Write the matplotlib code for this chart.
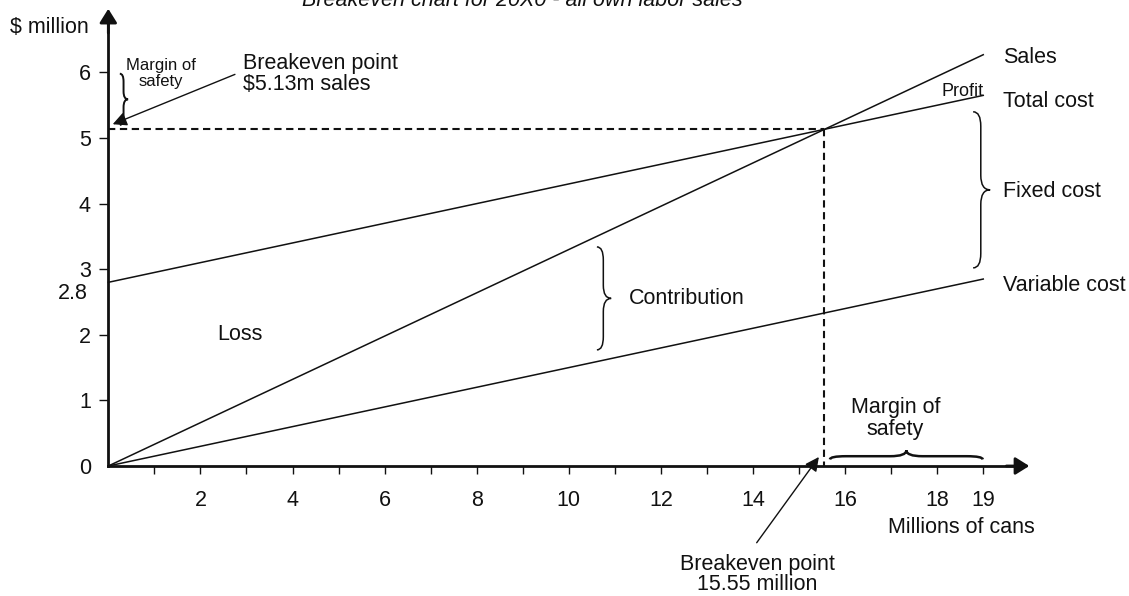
#!/usr/bin/env python3
"""Breakeven chart for 20X0 - all own labor sales."""

from __future__ import annotations

import matplotlib

matplotlib.use("Agg")

import matplotlib.pyplot as plt
from matplotlib.path import Path as MPath
from matplotlib.patches import PathPatch


# data (millions of cans, $ million)
UNITS = [0, 19]
SALES = [0, 6.27]
TOTAL_COST = [2.8, 5.65]
VARIABLE_COST = [0, 2.85]
FIXED_COST = 2.8
BREAKEVEN_UNITS = 15.55
BREAKEVEN_SALES = 5.13

X_TICKS = list(range(1, 20))
X_LABELS = ["2", "4", "6", "8", "10", "12", "14", "16", "18", "19"]
X_LABEL_AT = [2, 4, 6, 8, 10, 12, 14, 16, 18, 19]
Y_TICKS = [0, 1, 2, 3, 4, 5, 6]

LINE_LABELS = ["Sales", "Total cost", "Variable cost"]

FS = 15.5
INK = "#111111"


def brace_v(ax, x, y0, y1, depth, curl, lw=1.1):
    """Vertical '}' brace, ends at x, tip at x + depth."""
    ym = (y0 + y1) / 2
    xb = x + depth * 0.45
    xt = x + depth
    verts = [
        (x, y1), (xb, y1), (xb, y1 - curl),
        (xb, ym + curl),
        (xb, ym), (xt, ym),
        (xb, ym), (xb, ym - curl),
        (xb, y0 + curl),
        (xb, y0), (x, y0),
    ]
    C3 = MPath.CURVE3
    codes = [MPath.MOVETO, C3, C3, MPath.LINETO, C3, C3, C3, C3, MPath.LINETO, C3, C3]
    ax.add_patch(PathPatch(MPath(verts, codes), fill=False, lw=lw, color=INK))


def brace_h(ax, x0, x1, y, depth, curl, lw=1.8):
    """Horizontal brace opening downward, tip pointing up."""
    xm = (x0 + x1) / 2
    yb = y + depth * 0.35
    yt = y + depth
    verts = [
        (x0, y), (x0, yb), (x0 + curl, yb),
        (xm - curl, yb),
        (xm, yb), (xm, yt),
        (xm, yb), (xm + curl, yb),
        (x1 - curl, yb),
        (x1, yb), (x1, y),
    ]
    C3 = MPath.CURVE3
    codes = [MPath.MOVETO, C3, C3, MPath.LINETO, C3, C3, C3, C3, MPath.LINETO, C3, C3]
    ax.add_patch(PathPatch(MPath(verts, codes), fill=False, lw=lw, color=INK))


def main() -> None:
    plt.rcParams["font.family"] = ["Liberation Sans", "DejaVu Sans"]
    plt.rcParams["font.size"] = FS

    fig = plt.figure(figsize=(11.29, 5.96), dpi=100)
    ax = fig.add_axes([0, 0, 1, 1])
    ax.set_xlim(-2.352, 22.165)
    ax.set_ylim(-1.982, 7.104)

    # axes through the origin
    for side in ("top", "right"):
        ax.spines[side].set_visible(False)
    ax.spines["left"].set_position(("data", 0))
    ax.spines["bottom"].set_position(("data", 0))
    ax.spines["left"].set_bounds(0, 6.9)
    ax.spines["bottom"].set_bounds(0, 19.8)
    for side in ("left", "bottom"):
        ax.spines[side].set_linewidth(2.0)
        ax.spines[side].set_color(INK)

    arrow = dict(arrowstyle="-|>,head_length=0.4,head_width=0.25", lw=2.0,
                 color=INK, mutation_scale=21, shrinkA=0, shrinkB=0)
    ax.annotate("", xy=(0, 6.97), xytext=(0, 6.6), arrowprops=arrow)
    ax.annotate("", xy=(20.0, 0), xytext=(19.5, 0), arrowprops=arrow)

    ax.set_xticks(X_TICKS)
    ax.set_xticklabels([X_LABELS[X_LABEL_AT.index(t)] if t in X_LABEL_AT else "" for t in X_TICKS])
    ax.set_yticks(Y_TICKS)
    ax.set_yticklabels([str(t) for t in Y_TICKS])
    ax.tick_params(axis="x", direction="out", length=6, width=1.0, pad=11,
                   labelsize=FS, colors=INK)
    ax.tick_params(axis="y", direction="out", length=6.5, width=1.0, pad=6,
                   labelsize=FS, colors=INK)
    ax.yaxis.get_major_ticks()[0].tick1line.set_visible(False)

    # cost / revenue lines
    ax.plot(UNITS, SALES, color=INK, lw=1.1)
    ax.plot(UNITS, TOTAL_COST, color=INK, lw=1.1)
    ax.plot(UNITS, VARIABLE_COST, color=INK, lw=1.1)

    # breakeven guides
    ax.plot([0, BREAKEVEN_UNITS], [BREAKEVEN_SALES, BREAKEVEN_SALES],
            color=INK, lw=1.5, ls=(0, (3.5, 2.2)))
    ax.plot([BREAKEVEN_UNITS, BREAKEVEN_UNITS], [BREAKEVEN_SALES, 0],
            color=INK, lw=1.5, ls=(0, (3.5, 2.2)))

    # line labels at the right
    for label, ys in zip(LINE_LABELS, [SALES, TOTAL_COST, VARIABLE_COST]):
        ax.text(UNITS[-1] + 0.42, ys[-1] + (-0.05 if label == "Sales" else -0.1),
                label, ha="left", va="center", fontsize=FS, color=INK)
    ax.text(UNITS[-1], TOTAL_COST[-1] + 0.06, "Profit", ha="right", va="center",
            fontsize=13, color=INK)

    brace_v(ax, 18.78, FIXED_COST + 0.22, 5.40, 0.37, 0.22)
    ax.text(19.42, 4.19, "Fixed cost", ha="left", va="center", fontsize=FS, color=INK)

    brace_v(ax, 10.61, 1.77, 3.34, 0.31, 0.2)
    ax.text(11.31, 2.55, "Contribution", ha="left", va="center", fontsize=FS, color=INK)

    ax.text(2.86, 2.0, "Loss", ha="center", va="center", fontsize=FS, color=INK)

    # y-axis annotations
    ax.text(-0.42, 6.69, "$ million", ha="right", va="center", fontsize=FS, color=INK)
    ax.text(-0.456, 2.63, f"{FIXED_COST:g}", ha="right", va="center", fontsize=FS, color=INK)

    brace_v(ax, 0.25, 5.20, 5.98, 0.18, 0.12, lw=1.4)
    ax.text(1.15, 5.98, "Margin of\nsafety", ha="center", va="center", fontsize=12,
            color=INK, linespacing=1.05)
    small_arrow = dict(arrowstyle="-|>,head_length=0.6,head_width=0.3", lw=1.0,
                       color=INK, mutation_scale=14, shrinkA=0, shrinkB=0)
    ax.annotate("", xy=(0.096, 5.21), xytext=(2.75, 5.97), arrowprops=small_arrow)
    ax.text(2.93, 5.98, f"Breakeven point\n${BREAKEVEN_SALES:.2f}m sales", ha="left",
            va="center", fontsize=FS, color=INK, linespacing=1.0)

    # x-axis annotations
    brace_h(ax, 15.67, 18.99, 0.10, 0.14, 0.35)
    ax.text(17.09, 0.73, "Margin of\nsafety", ha="center", va="center", fontsize=FS,
            color=INK, linespacing=1.05)
    ax.annotate("", xy=(15.43, 0.137), xytext=(14.08, -1.17), arrowprops=small_arrow)
    ax.text(14.1, -1.65, f"Breakeven point\n{BREAKEVEN_UNITS:.2f} million", ha="center",
            va="center", fontsize=FS, color=INK, linespacing=0.95)
    ax.text(18.52, -0.945, "Millions of cans", ha="center", va="center", fontsize=FS,
            color=INK)

    # title, cut off at the top edge as in the source scan
    ax.text(8.98, 7.02, "Breakeven chart for 20X0 - all own labor sales", ha="center",
            va="baseline", fontsize=FS, style="italic", color=INK)

    fig.savefig("out.png", dpi=100)
    plt.close(fig)


if __name__ == "__main__":
    main()
